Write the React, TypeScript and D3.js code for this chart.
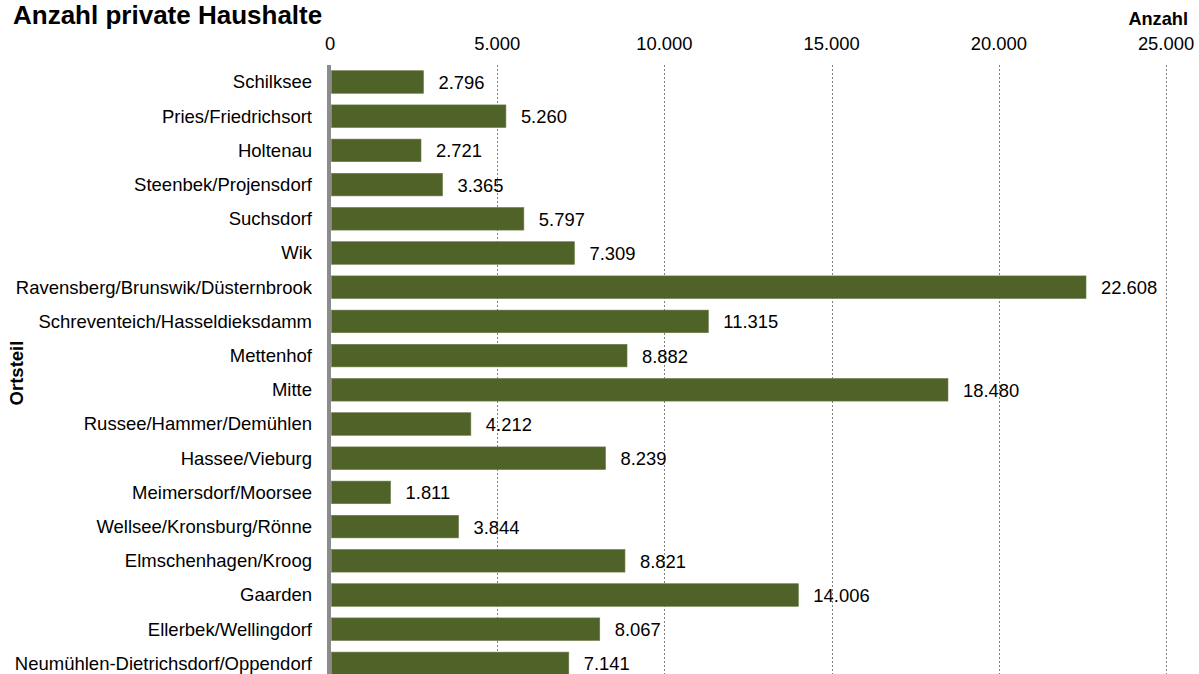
import React from "react";
import * as d3 from "d3";

const categories = [
  "Schilksee",
  "Pries/Friedrichsort",
  "Holtenau",
  "Steenbek/Projensdorf",
  "Suchsdorf",
  "Wik",
  "Ravensberg/Brunswik/Düsternbrook",
  "Schreventeich/Hasseldieksdamm",
  "Mettenhof",
  "Mitte",
  "Russee/Hammer/Demühlen",
  "Hassee/Vieburg",
  "Meimersdorf/Moorsee",
  "Wellsee/Kronsburg/Rönne",
  "Elmschenhagen/Kroog",
  "Gaarden",
  "Ellerbek/Wellingdorf",
  "Neumühlen-Dietrichsdorf/Oppendorf",
];

const values = [
  2796, 5260, 2721, 3365, 5797, 7309, 22608, 11315, 8882, 18480, 4212, 8239,
  1811, 3844, 8821, 14006, 8067, 7141,
];

const ticks = [0, 5000, 10000, 15000, 20000, 25000];

const title = "Anzahl private Haushalte";
const xTitle = "Anzahl";
const yTitle = "Ortsteil";

const W = 1199;
const H = 674;
const FONT = "'Liberation Sans', Arial, sans-serif";

const fmt = (v: number) => d3.format(",")(v).replace(/,/g, ".");

export default function App() {
  const x = d3.scaleLinear().domain([0, 25000]).range([330, 1166]);
  const y = d3
    .scaleBand<string>()
    .domain(categories)
    .range([65, 680.4])
    .paddingInner(0.34)
    .paddingOuter(0.167);
  const bw = y.bandwidth();

  return (
    <svg
      width={W}
      height={H}
      style={{ position: "absolute", left: 0, top: 0, background: "#fff" }}
      fontFamily={FONT}
    >
      <rect x={0} y={0} width={W} height={H} fill="#fff" />
      {/* gridlines */}
      {ticks.slice(1).map((t) => (
        <line
          key={"g" + t}
          x1={Math.round(x(t)) + 0.5}
          x2={Math.round(x(t)) + 0.5}
          y1={65}
          y2={H}
          stroke="#7f7f7f"
          strokeWidth={1}
          strokeDasharray="2,2"
        />
      ))}
      {/* bars */}
      {categories.map((c, i) => (
        <rect
          key={c}
          x={x(0) + 1.5}
          y={y(c)!}
          width={x(values[i]) - x(0) - 1.5}
          height={bw}
          fill="#4F6228"
          stroke="#6b7a48"
          strokeWidth={0.6}
        />
      ))}
      {/* axis line */}
      <rect x={327} y={65} width={4} height={H - 65} fill="#8c8c8c" />
      {/* category labels */}
      {categories.map((c) => (
        <text
          key={"l" + c}
          x={312}
          y={y(c)! + bw / 2}
          dy="0.35em"
          textAnchor="end"
          fontSize={18.5}
          fill="#000"
        >
          {c}
        </text>
      ))}
      {/* value labels */}
      {categories.map((c, i) => (
        <text
          key={"v" + c}
          x={x(values[i]) + 15}
          y={y(c)! + bw / 2}
          dy="0.38em"
          fontSize={18.4}
          fill="#000"
        >
          {fmt(values[i])}
        </text>
      ))}
      {/* tick labels */}
      {ticks.map((t) => (
        <text
          key={"t" + t}
          x={x(t)}
          y={49.5}
          textAnchor="middle"
          fontSize={18.4}
          fill="#000"
        >
          {fmt(t)}
        </text>
      ))}
      <text x={13} y={24} fontSize={26} fontWeight="bold" fill="#000">
        {title}
      </text>
      <text
        x={1188}
        y={25}
        textAnchor="end"
        fontSize={18.2}
        fontWeight="bold"
        fill="#000"
      >
        {xTitle}
      </text>
      <text
        transform={`translate(23.3,373) rotate(-90)`}
        textAnchor="middle"
        fontSize={18.5}
        fontWeight="bold"
        fill="#000"
      >
        {yTitle}
      </text>
    </svg>
  );
}
